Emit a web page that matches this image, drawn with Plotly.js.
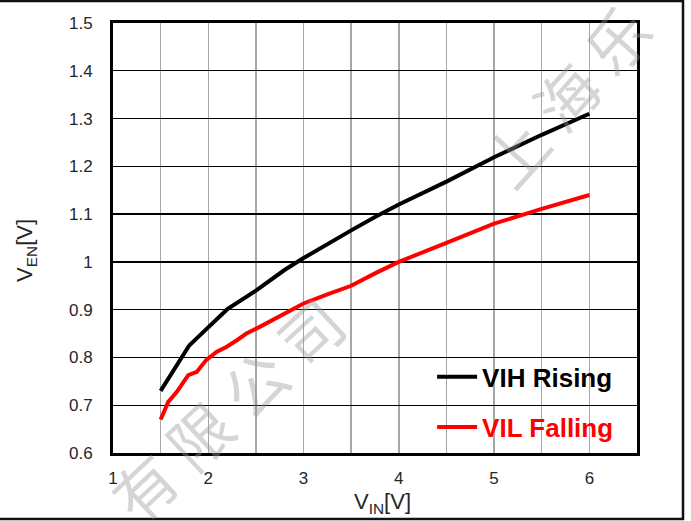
<!DOCTYPE html>
<html>
<head>
<meta charset="utf-8">
<script src="https://cdn.plot.ly/plotly-3.0.1.min.js"></script>
<style>
  html, body { margin: 0; padding: 0; background: #ffffff; }
  #chart { width: 691px; height: 521px; }
</style>
</head>
<body>
<div id="chart"></div>
<script>
// ---- data ----
const vihName = 'VIH Rising';
const vihX = [1.5, 1.6, 1.7, 1.8, 1.9, 2.0, 2.2, 2.5, 2.8, 3.0, 3.25, 3.5, 3.75, 4.0, 4.5, 5.0, 5.5, 6.0];
const vihY = [0.730, 0.762, 0.795, 0.825, 0.844, 0.863, 0.901, 0.940, 0.983, 1.008, 1.038, 1.066, 1.094, 1.120, 1.168, 1.219, 1.266, 1.310];

const vilName = 'VIL Falling';
const vilX = [1.5, 1.58, 1.67, 1.73, 1.79, 1.88, 1.98, 2.09, 2.19, 2.3, 2.4, 2.54, 2.75, 3.0, 3.25, 3.5, 3.75, 4.0, 4.5, 5.0, 5.5, 6.0];
const vilY = [0.670, 0.707, 0.728, 0.745, 0.763, 0.770, 0.795, 0.812, 0.822, 0.836, 0.850, 0.864, 0.887, 0.913, 0.932, 0.950, 0.976, 1.000, 1.040, 1.080, 1.111, 1.140];

const xTickVals = [1, 2, 3, 4, 5, 6];
const xTickText = ['1', '2', '3', '4', '5', '6'];
const yTickVals = [0.6, 0.7, 0.8, 0.9, 1.0, 1.1, 1.2, 1.3, 1.4, 1.5];
const yTickText = ['0.6', '0.7', '0.8', '0.9', '1', '1.1', '1.2', '1.3', '1.4', '1.5'];

const xTitle = 'V<sub>IN</sub>[V]';
const yTitle = 'V<sub>EN</sub>[V]';
const watermarkA = '有 限 公 司';
const watermarkB = '上 海 乐';

const tickFont = { family: 'Liberation Sans, Arial, sans-serif', size: 17, color: '#262626' };
const titleFont = { family: 'Liberation Sans, Arial, sans-serif', size: 22, color: '#262626' };
const wmFont = { family: 'Noto Sans CJK SC, sans-serif', size: 62, color: 'rgba(150,150,150,0.4)' };

const traces = [
  { x: vihX, y: vihY, name: vihName, type: 'scatter', mode: 'lines',
    line: { color: '#000000', width: 4 }, legend: 'legend' },
  { x: vilX, y: vilY, name: vilName, type: 'scatter', mode: 'lines',
    line: { color: '#ff0000', width: 4 }, legend: 'legend2' }
];

const legendFont = { family: 'Liberation Sans, Arial, sans-serif', size: 26, weight: 'bold' };

const layout = {
  width: 691, height: 521,
  margin: { l: 113, r: 54, t: 23, b: 68 },
  paper_bgcolor: '#ffffff', plot_bgcolor: '#ffffff',
  showlegend: true,
  xaxis: {
    range: [1, 6.5], tickvals: xTickVals, ticktext: xTickText,
    showgrid: true, gridcolor: '#a6a6a6', gridwidth: 1.5,
    minor: { dtick: 0.5, tick0: 1, showgrid: true, gridcolor: '#a6a6a6', gridwidth: 1.5 },
    showline: true, mirror: true, linecolor: '#000000', linewidth: 3,
    zeroline: false, ticks: '', ticklabelstandoff: 8,
    tickfont: tickFont
  },
  yaxis: {
    range: [0.6, 1.5], tickvals: yTickVals, ticktext: yTickText,
    showgrid: true, gridcolor: '#000000', gridwidth: 1.4,
    showline: true, mirror: true, linecolor: '#000000', linewidth: 3,
    zeroline: false, ticks: '', ticklabelstandoff: 14,
    tickfont: tickFont
  },
  legend: {
    x: 0.609, y: 0.177, xanchor: 'left', yanchor: 'middle', itemwidth: 40,
    bgcolor: 'rgba(0,0,0,0)', borderwidth: 0,
    font: Object.assign({ color: '#000000' }, legendFont)
  },
  legend2: {
    x: 0.609, y: 0.060, xanchor: 'left', yanchor: 'middle', itemwidth: 40,
    bgcolor: 'rgba(0,0,0,0)', borderwidth: 0,
    font: Object.assign({ color: '#ff0000' }, legendFont)
  },
  shapes: [
    { type: 'rect', xref: 'paper', yref: 'paper', layer: 'above',
      x0: -0.3, x1: 1.0878, y0: -0.1535, y1: 1.0512,
      line: { color: '#111111', width: 2.5 }, fillcolor: 'rgba(0,0,0,0)' }
  ],
  annotations: [
    { text: xTitle, xref: 'paper', yref: 'paper', x: 0.515, y: -0.117,
      xanchor: 'center', yanchor: 'middle', showarrow: false, font: titleFont },
    { text: yTitle, xref: 'paper', yref: 'paper', x: -0.166, y: 0.47,
      xanchor: 'center', yanchor: 'middle', showarrow: false, textangle: -90, font: titleFont },
    { text: watermarkA, xref: 'paper', yref: 'paper', x: 0.2157, y: 0.1047,
      xanchor: 'center', yanchor: 'middle', showarrow: false, textangle: -43, font: wmFont },
    { text: watermarkB, xref: 'paper', yref: 'paper', x: 0.8626, y: 0.8326,
      xanchor: 'center', yanchor: 'middle', showarrow: false, textangle: -48, font: wmFont }
  ]
};

Plotly.newPlot('chart', traces, layout, { staticPlot: true, displayModeBar: false });
</script>
</body>
</html>
